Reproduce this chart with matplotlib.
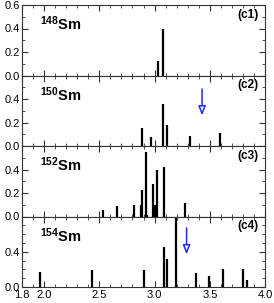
import numpy as np
import matplotlib
matplotlib.use("Agg")
import matplotlib.pyplot as plt
from matplotlib.ticker import FixedLocator, MultipleLocator

plt.rcParams['font.family'] = ['Liberation Sans', 'DejaVu Sans']
plt.rcParams['mathtext.fontset'] = 'custom'
plt.rcParams['mathtext.bf'] = 'Liberation Sans:bold'
plt.rcParams['mathtext.rm'] = 'Liberation Sans'

# line positions and strengths for each isotope
x148 = [3.033, 3.076]
y148 = [0.124, 0.40]

x150 = [2.883, 2.97, 3.076, 3.11, 3.318, 3.589]
y150 = [0.149, 0.077, 0.354, 0.177, 0.086, 0.114]

x152 = [2.533, 2.657, 2.81, 2.875, 2.883, 2.922, 2.93, 2.983, 3.0, 3.019, 3.082, 3.278]
y152 = [0.058, 0.093, 0.10, 0.10, 0.225, 0.546, 0.017, 0.274, 0.10, 0.394, 0.42, 0.114]

x154 = [1.963, 2.436, 2.904, 3.085, 3.11, 3.19, 3.372, 3.49, 3.62, 3.80, 3.836]
y154 = [0.167, 0.198, 0.198, 0.454, 0.322, 0.80, 0.155, 0.12, 0.206, 0.206, 0.078]

names = ['148', '150', '152', '154']
tags = ['(c1)', '(c2)', '(c3)', '(c4)']
ymax = [0.6, 0.6, 0.6, 0.8]
yticks = [[0.0, 0.2, 0.4, 0.6], [0.0, 0.2, 0.4], [0.0, 0.2, 0.4], [0.0, 0.4]]
xticks = [1.8, 2.0, 2.5, 3.0, 3.5, 4.0]

# arrows: x, y start, y end (None = no arrow)
arrows = [None, (3.43, 0.485, 0.26), None, (3.29, 0.67, 0.37)]

xs = [x148, x150, x152, x154]
ys = [y148, y150, y152, y154]

fig = plt.figure(figsize=(2.74, 3.03), dpi=100)
left, right = 22 / 274, 265 / 274
top, bottom = 1 - 5 / 303, 1 - 287 / 303
h = (top - bottom) / 4

for k in range(4):
    ax = fig.add_axes([left, top - (k + 1) * h, right - left, h])
    ax.vlines(xs[k], 0, ys[k], colors='black', lw=1.6)
    ax.set_xlim(1.8, 4.0)
    ax.set_ylim(0, ymax[k])
    ax.xaxis.set_major_locator(FixedLocator(xticks))
    ax.xaxis.set_minor_locator(MultipleLocator(0.1))
    ax.yaxis.set_major_locator(FixedLocator(yticks[k]))
    ax.yaxis.set_minor_locator(MultipleLocator(0.1))
    ax.yaxis.set_major_formatter(matplotlib.ticker.FormatStrFormatter('%.1f'))
    ax.xaxis.set_major_formatter(matplotlib.ticker.FormatStrFormatter('%.1f'))
    ax.tick_params(which='both', direction='in', top=True, right=True,
                   labelsize=8, color='#333333')
    ax.tick_params(axis='y', pad=1.5)
    ax.tick_params(axis='x', pad=2.5)
    ax.tick_params(which='major', length=4, width=0.8)
    ax.tick_params(which='minor', length=2.5, width=0.6)
    for s in ax.spines.values():
        s.set_color('#333333')
        s.set_linewidth(0.8)
    if k < 3:
        ax.tick_params(axis='x', labelbottom=False)
    ax.text(0.074, 0.73, r'$\mathbf{^{' + names[k] + r'}}$Sm', transform=ax.transAxes,
            fontsize=10.5, fontweight='bold', va='center', ha='left')
    ax.text(0.975, 0.86, tags[k], transform=ax.transAxes, fontsize=8.5,
            fontweight='bold', va='center', ha='right')
    if arrows[k] is not None:
        ax_x, y0, y1 = arrows[k]
        ax.annotate('', xy=(ax_x, y1), xytext=(ax_x, y0),
                    arrowprops=dict(arrowstyle='-|>,head_width=0.22,head_length=0.55',
                                    fc='white', ec='#1f2bff', lw=1.1,
                                    shrinkA=0, shrinkB=0))

fig.savefig('out.png', dpi=100)
